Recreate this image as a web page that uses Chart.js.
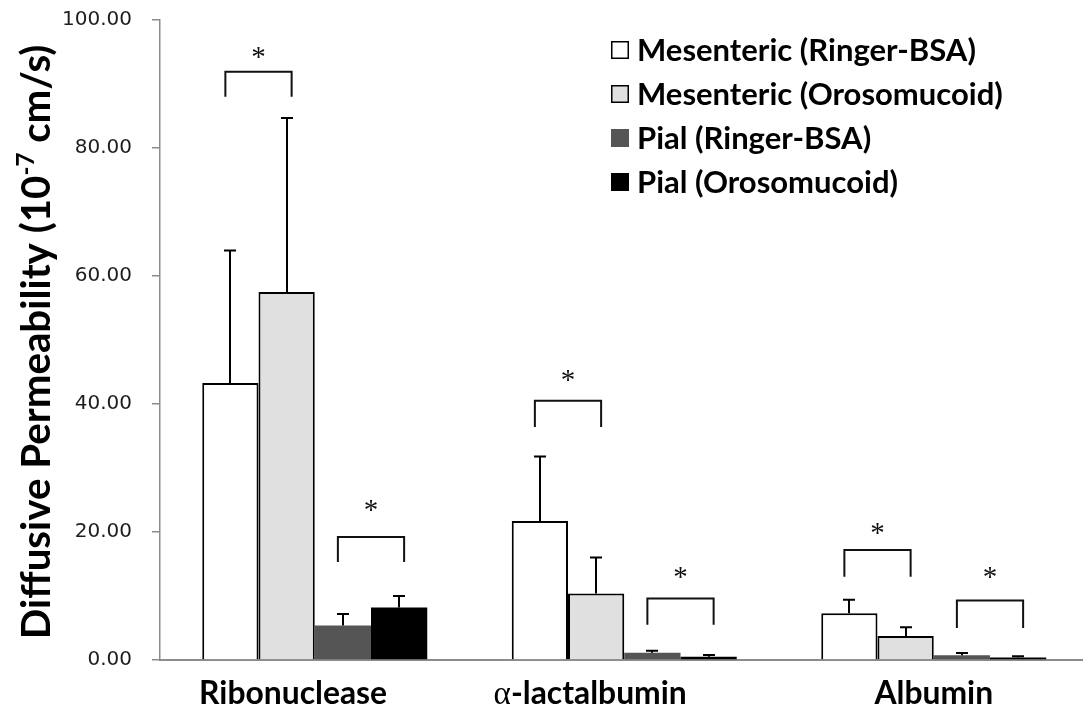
<!DOCTYPE html>
<html><head><meta charset="utf-8">
<script src="https://cdn.jsdelivr.net/npm/chart.js@4.4.1/dist/chart.umd.min.js"></script>
<style>html,body{margin:0;padding:0;background:#fff;overflow:hidden}#wrap{width:1083px;height:714px;position:relative}</style>
</head><body><div id="wrap"><canvas id="c"></canvas></div>
<script>
// ---- data ----
const categories = ['Ribonuclease', 'α-lactalbumin', 'Albumin'];
const seriesNames = ['Mesenteric (Ringer-BSA)', 'Mesenteric (Orosomucoid)', 'Pial (Ringer-BSA)', 'Pial (Orosomucoid)'];
const mesRinger = [43.3, 21.7, 7.3];
const mesOroso = [57.5, 10.4, 3.75];
const pialRinger = [5.4, 1.15, 0.75];
const pialOroso = [8.2, 0.5, 0.4];
const mesRingerSD = [20.7, 10.1, 2.1];
const mesOrosoSD = [27.2, 5.6, 1.35];
const pialRingerSD = [1.8, 0.3, 0.35];
const pialOrosoSD = [1.8, 0.3, 0.2];
const yTicks = [0, 20, 40, 60, 80, 100];
// significance brackets: category, first series, second series, bracket top, leg bottom, asterisk centre (data units)
const sigCategory = [0, 0, 1, 1, 2, 2];
const sigFrom = [0, 2, 0, 2, 0, 2];
const sigTo = [1, 3, 1, 3, 1, 3];
const sigTop = [91.9, 19.2, 40.5, 9.6, 17.2, 9.3];
const sigLeg = [88.0, 15.3, 36.4, 5.5, 13.0, 5.0];
const sigStar = [95.0, 24.2, 44.5, 13.6, 20.6, 13.7];

// ---- styles ----
const fills = ['#ffffff', '#e0e0e0', '#555555', '#000000'];
const borders = ['#000000', '#000000', '#555555', '#000000'];
const borderW = [2, 2, 0, 0];
const FAM = 'Lato, "Open Sans", "Liberation Sans", sans-serif';
const labelOffsets = [-0.07, -0.11, 0.0];

const values = [mesRinger, mesOroso, pialRinger, pialOroso];
const sds = [mesRingerSD, mesOrosoSD, pialRingerSD, pialOrosoSD];

const datasets = values.map((arr, s) => ({
  label: seriesNames[s],
  data: arr.map((v, i) => ({x: i, y: v})),
  backgroundColor: fills[s],
  borderColor: borders[s],
  borderWidth: borderW[s],
  categoryPercentage: 0.727,
  barPercentage: 1.0
}));

function fitSize(ctx, weight, text, target) {
  ctx.font = weight + ' 100px ' + FAM;
  return 100 * target / ctx.measureText(text).width;
}

const extras = {
  id: 'extras',
  afterDatasetsDraw(chart) {
    const ctx = chart.ctx, y = chart.scales.y;
    ctx.save();
    ctx.strokeStyle = '#000';
    ctx.lineWidth = 2;
    datasets.forEach((ds, s) => {
      const meta = chart.getDatasetMeta(s);
      meta.data.forEach((el, i) => {
        const top = y.getPixelForValue(values[s][i] + sds[s][i]);
        const x = Math.round(el.x);
        ctx.beginPath();
        ctx.moveTo(x, el.y);
        ctx.lineTo(x, top);
        ctx.moveTo(x - 6, top);
        ctx.lineTo(x + 6, top);
        ctx.stroke();
      });
    });
    ctx.restore();
  },
  afterDraw(chart) {
    const ctx = chart.ctx, y = chart.scales.y, xs = chart.scales.x;
    ctx.save();
    // brackets
    ctx.strokeStyle = '#111';
    ctx.lineWidth = 2;
    sigCategory.forEach((c, k) => {
      const a = chart.getDatasetMeta(sigFrom[k]).data[c].x - 5;
      const b = chart.getDatasetMeta(sigTo[k]).data[c].x + 5;
      const t = y.getPixelForValue(sigTop[k]);
      const l = y.getPixelForValue(sigLeg[k]);
      ctx.beginPath();
      ctx.moveTo(a, l); ctx.lineTo(a, t); ctx.lineTo(b, t); ctx.lineTo(b, l);
      ctx.stroke();
      ctx.font = '29px "Liberation Serif", "DejaVu Serif", serif';
      ctx.fillStyle = '#111';
      ctx.textAlign = 'center';
      ctx.textBaseline = 'alphabetic';
      const m = ctx.measureText('*');
      const sy = y.getPixelForValue(sigStar[k]) + (m.actualBoundingBoxAscent - m.actualBoundingBoxDescent) / 2;
      ctx.fillText('*', (a + b) / 2, sy);
    });
    // x category labels
    ctx.fillStyle = '#000';
    ctx.textBaseline = 'alphabetic';
    const labSize = fitSize(ctx, 'bold', 'Ribonuclease', 188);
    categories.forEach((name, i) => {
      const cx = xs.getPixelForValue(i + labelOffsets[i]);
      const by = 704;
      if (name.startsWith('α')) {
        const f1 = Math.round(labSize * 1.05) + 'px "Liberation Serif", "DejaVu Serif", serif';
        const f2 = 'bold ' + labSize + 'px ' + FAM;
        ctx.font = f1; const w1 = ctx.measureText('α').width;
        ctx.font = f2; const w2 = ctx.measureText(name.slice(1)).width;
        const x0 = cx - (w1 + w2) / 2;
        ctx.textAlign = 'left';
        ctx.font = f1; ctx.fillText('α', x0, by);
        ctx.font = f2; ctx.fillText(name.slice(1), x0 + w1, by);
      } else {
        ctx.textAlign = 'center';
        ctx.font = 'bold ' + labSize + 'px ' + FAM;
        ctx.fillText(name, cx, by);
      }
    });
    // legend
    const legSize = fitSize(ctx, 'bold', seriesNames[1], 366);
    seriesNames.forEach((name, s) => {
      const cy = 50 + s * 44;
      ctx.fillStyle = fills[s];
      ctx.fillRect(611, cy - 9, 18, 18);
      if (s < 2) {
        ctx.strokeStyle = '#000';
        ctx.lineWidth = 1.5;
        ctx.strokeRect(611.75, cy - 8.25, 16.5, 16.5);
      }
      ctx.fillStyle = '#000';
      ctx.font = 'bold ' + legSize + 'px ' + FAM;
      ctx.textAlign = 'left';
      ctx.textBaseline = 'middle';
      ctx.fillText(name, 637, cy + 1);
    });
    // y-axis title with superscript
    const p1 = 'Diffusive Permeability (10', p2 = '-7', p3 = ' cm/s)';
    ctx.font = 'bold 100px ' + FAM;
    const a1 = ctx.measureText(p1).width, a3 = ctx.measureText(p3).width;
    ctx.font = 'bold 60px ' + FAM;
    const a2 = ctx.measureText(p2).width;
    const S = 100 * 595 / (a1 + a2 + a3);
    ctx.translate(37, 342);
    ctx.rotate(-Math.PI / 2);
    const fBig = 'bold ' + S + 'px ' + FAM, fSup = 'bold ' + (S * 0.6) + 'px ' + FAM;
    ctx.font = fBig; const w1 = ctx.measureText(p1).width, w3 = ctx.measureText(p3).width;
    ctx.font = fSup; const w2 = ctx.measureText(p2).width;
    const x0 = -(w1 + w2 + w3) / 2;
    ctx.textAlign = 'left';
    ctx.textBaseline = 'middle';
    ctx.fillStyle = '#000';
    ctx.font = fBig; ctx.fillText(p1, x0, 0);
    ctx.font = fSup; ctx.fillText(p2, x0 + w1, -S * 0.28);
    ctx.font = fBig; ctx.fillText(p3, x0 + w1 + w2, 0);
    ctx.restore();
  }
};

new Chart(document.getElementById('c'), {
  type: 'bar',
  data: { datasets },
  options: {
    responsive: true,
    maintainAspectRatio: false,
    animation: false,
    layout: { padding: { top: 20, right: 0, bottom: 0, left: 0 } },
    plugins: { legend: { display: false }, tooltip: { enabled: false } },
    scales: {
      x: {
        type: 'linear',
        offset: false,
        min: -0.5,
        max: -0.5 + 923 / 309.5,
        grid: { display: false },
        border: { display: true, color: '#8c8c8c', width: 2 },
        ticks: { display: false },
        afterBuildTicks(scale) { scale.ticks = categories.map((_, i) => ({ value: i })); },
        afterFit(scale) { scale.height = 54; scale.paddingLeft = 0; scale.paddingRight = 0; }
      },
      y: {
        min: 0, max: 100,
        afterBuildTicks(scale) { scale.ticks = yTicks.map(v => ({ value: v })); },
        grid: { display: true, drawOnChartArea: false, drawTicks: true, tickLength: 8, color: '#8c8c8c', lineWidth: 1.5 },
        border: { display: true, color: '#8c8c8c', width: 1.5 },
        ticks: {
          padding: 20,
          color: '#1e1e1e',
          font: { family: '"DejaVu Sans", sans-serif', size: 20 },
          callback: v => Number(v).toFixed(2)
        },
        afterFit(scale) { scale.width = 160; scale.paddingTop = 0; scale.paddingBottom = 0; }
      }
    }
  },
  plugins: [extras]
});
</script></body></html>
